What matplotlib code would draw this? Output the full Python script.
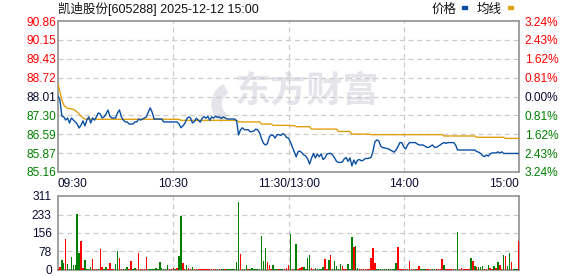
import matplotlib
matplotlib.use('Agg')
import matplotlib.pyplot as plt
import matplotlib.patches as patches

plt.rcParams['font.family'] = ['Liberation Sans', 'Noto Sans CJK SC', 'DejaVu Sans']

TITLE = '凯迪股份[605288] 2025-12-12 15:00'
PREV_CLOSE = 88.01

# one value per minute, 09:30 .. 11:30 then 13:00 .. 15:00 (241 points)
price = [
    88.03, 87.88, 87.27, 87.24, 87.12, 87.20, 87.01, 87.20, 87.12, 87.05,
    86.97, 86.82, 86.93, 87.09, 86.90, 87.12, 87.24, 87.01, 87.20, 87.12,
    87.24, 87.39, 87.35, 87.20, 87.24, 87.35, 87.50, 87.27, 87.20, 87.20,
    87.20, 87.39, 87.50, 87.24, 87.12, 87.05, 87.05, 86.97, 86.97, 86.97,
    87.05, 87.05, 87.16, 87.12, 87.16, 87.20, 87.24, 87.42, 87.58, 87.42,
    87.16, 87.16, 87.16, 87.16, 87.16, 87.05, 87.05, 87.05, 87.05, 87.05,
    87.05, 87.05, 87.05, 86.97, 86.83, 86.90, 86.99, 87.16, 87.24, 87.20,
    87.01, 87.06, 87.19, 87.12, 87.04, 87.18, 87.25, 87.19, 87.26, 87.11,
    87.24, 87.19, 87.27, 87.22, 87.24, 87.18, 87.24, 87.20, 87.16, 87.16,
    87.16, 87.16, 87.16, 87.09, 86.56, 86.75, 86.83, 86.76, 86.75, 86.76,
    86.68, 86.69, 86.71, 86.78, 86.75, 86.63, 86.41, 86.24, 86.18, 86.23,
    86.48, 86.56, 86.54, 86.44, 86.57, 86.57, 86.54, 86.61, 86.57, 86.46,
    86.44, 86.29, 86.10, 85.91, 85.73, 85.93, 85.95, 85.88, 85.80, 85.76,
    85.65, 85.46, 85.69, 85.86, 85.69, 85.84, 85.74, 85.84, 85.63, 85.69,
    85.84, 85.86, 85.86, 85.80, 85.69, 85.56, 85.52, 85.52, 85.54, 85.65,
    85.71, 85.56, 85.69, 85.39, 85.61, 85.46, 85.61, 85.63, 85.58, 85.61,
    85.67, 85.67, 85.68, 85.71, 85.95, 86.30, 86.37, 86.33, 86.14, 86.08,
    86.07, 86.05, 86.03, 85.99, 85.95, 85.91, 85.99, 86.12, 86.27, 86.27,
    86.10, 86.03, 86.18, 86.27, 86.27, 86.27, 86.27, 86.22, 86.18, 86.18,
    86.18, 86.14, 86.09, 86.09, 86.14, 86.18, 86.09, 86.09, 86.14, 86.18,
    86.24, 86.27, 86.24, 86.27, 86.27, 86.27, 86.27, 86.18, 85.99, 85.99,
    85.99, 85.99, 85.99, 85.99, 85.99, 85.99, 85.99, 85.99, 85.93, 85.91,
    85.86, 85.78, 85.74, 85.80, 85.76, 85.84, 85.88, 85.88, 85.88, 85.92,
    85.88, 85.92, 85.86, 85.86, 85.86, 85.86, 85.86, 85.86, 85.86, 85.86,
    85.86,
]

avg_price = [
    88.48, 88.18, 87.88, 87.69, 87.61, 87.56, 87.56, 87.54, 87.52, 87.48,
    87.42, 87.35, 87.27, 87.20, 87.16, 87.15, 87.15, 87.15, 87.15, 87.15,
    87.15, 87.15, 87.15, 87.15, 87.15, 87.15, 87.15, 87.15, 87.15, 87.15,
    87.15, 87.15, 87.15, 87.15, 87.15, 87.15, 87.15, 87.15, 87.15, 87.15,
    87.15, 87.15, 87.15, 87.15, 87.15, 87.15, 87.15, 87.15, 87.15, 87.15,
    87.15, 87.15, 87.15, 87.15, 87.15, 87.15, 87.15, 87.15, 87.15, 87.15,
    87.15, 87.15, 87.15, 87.15, 87.11, 87.11, 87.11, 87.11, 87.11, 87.11,
    87.11, 87.11, 87.11, 87.11, 87.11, 87.11, 87.11, 87.11, 87.11, 87.11,
    87.11, 87.11, 87.11, 87.11, 87.11, 87.11, 87.11, 87.11, 87.11, 87.11,
    87.11, 87.11, 87.11, 87.11, 87.05, 87.05, 87.05, 87.05, 87.05, 87.05,
    87.05, 87.05, 87.05, 87.05, 87.05, 87.05, 86.97, 86.97, 86.97, 86.97,
    86.97, 86.97, 86.92, 86.92, 86.92, 86.92, 86.92, 86.92, 86.92, 86.92,
    86.92, 86.91, 86.91, 86.91, 86.87, 86.87, 86.87, 86.87, 86.87, 86.87,
    86.87, 86.87, 86.78, 86.78, 86.78, 86.78, 86.78, 86.78, 86.78, 86.78,
    86.78, 86.78, 86.78, 86.78, 86.78, 86.78, 86.69, 86.69, 86.69, 86.69,
    86.69, 86.69, 86.69, 86.59, 86.59, 86.59, 86.59, 86.59, 86.59, 86.59,
    86.59, 86.59, 86.59, 86.57, 86.57, 86.57, 86.57, 86.57, 86.57, 86.57,
    86.57, 86.57, 86.57, 86.57, 86.57, 86.57, 86.57, 86.57, 86.57, 86.57,
    86.57, 86.57, 86.57, 86.57, 86.57, 86.57, 86.57, 86.57, 86.57, 86.57,
    86.57, 86.57, 86.57, 86.57, 86.57, 86.57, 86.57, 86.57, 86.57, 86.57,
    86.57, 86.52, 86.52, 86.52, 86.52, 86.52, 86.52, 86.52, 86.52, 86.52,
    86.52, 86.52, 86.52, 86.52, 86.52, 86.52, 86.52, 86.52, 86.47, 86.47,
    86.47, 86.47, 86.47, 86.47, 86.47, 86.47, 86.47, 86.47, 86.47, 86.47,
    86.47, 86.47, 86.47, 86.43, 86.43, 86.43, 86.43, 86.43, 86.43, 86.43,
    86.43,
]

# volume per minute (lots) and up/down flag
volume = [
    6, 11, 42, 31, 129, 25, 4, 53, 21, 21,
    235, 70, 122, 7, 42, 4, 6, 11, 45, 4,
    4, 4, 87, 11, 4, 11, 4, 28, 4, 4,
    25, 80, 49, 4, 6, 4, 11, 4, 38, 4,
    8, 4, 70, 4, 4, 4, 53, 4, 4, 4,
    4, 8, 4, 32, 8, 4, 4, 21, 4, 4,
    8, 6, 8, 59, 227, 28, 6, 21, 8, 4,
    11, 4, 4, 4, 4, 4, 4, 4, 4, 4,
    4, 4, 4, 4, 4, 4, 4, 4, 4, 4,
    4, 4, 4, 35, 284, 66, 6, 4, 21, 4,
    6, 8, 4, 4, 4, 4, 143, 38, 91, 35,
    21, 4, 21, 4, 4, 4, 4, 4, 4, 7,
    21, 151, 4, 4, 109, 4, 7, 11, 11, 4,
    50, 63, 8, 4, 8, 4, 4, 4, 11, 46,
    4, 42, 63, 4, 39, 17, 4, 25, 17, 4,
    4, 25, 4, 139, 97, 101, 8, 4, 4, 4,
    4, 4, 4, 50, 92, 31, 4, 4, 4, 4,
    4, 4, 4, 4, 4, 4, 29, 97, 4, 4,
    4, 4, 4, 38, 4, 4, 4, 4, 17, 4,
    4, 4, 4, 4, 4, 4, 4, 4, 4, 4,
    46, 21, 4, 6, 4, 4, 4, 4, 160, 6,
    8, 4, 4, 4, 4, 50, 38, 17, 13, 13,
    13, 17, 4, 4, 21, 8, 4, 17, 8, 34,
    21, 4, 63, 59, 17, 71, 34, 4, 4, 4,
    122,
]
vol_dir = (
    'rrggrggggg' 'ggrrggggrr' 'rgrrggrrrr' 'ggrrgggrrg' 'grrrrrrggg'
    'ggggggggrr' 'rgrggrrgrr' 'grrrrrrrrr' 'rrrgrggrgg' 'gggggrgggr'
    'gggggggggr' 'rrgggrggrr' 'rgrggrrrgg' 'ggrrgggggr' 'rgrgggggrr'
    'rgggrggrrr' 'rrrrrrgggg' 'gggggggrrr' 'rrrrrrgrrg' 'ggrrrggrrr'
    'rgrrrrrggr' 'rrrrrgrgrg' 'ggrrgrrgrg' 'rrgrggrggg' 'r'
)

price_ticks = [90.86, 90.15, 89.43, 88.72, 88.01, 87.30, 86.59, 85.87, 85.16]
pct_labels = ['3.24%', '2.43%', '1.62%', '0.81%', '0.00%',
              '0.81%', '1.62%', '2.43%', '3.24%']
vol_ticks = [0, 78, 156, 233, 311]
time_ticks = [0, 60, 120, 180, 240]
time_labels = ['09:30', '10:30', '11:30/13:00', '14:00', '15:00']

RED = '#ff0000'
GREEN = '#008000'
DARK = '#0a0a30'
FRAME = '#999999'
GRID = '#cccccc'
W, H = 578, 276


def box(left, top, right, bottom):
    return [left / W, 1 - bottom / H, (right - left) / W, (bottom - top) / H]


def dress(ax):
    for s in ax.spines.values():
        s.set_color(FRAME)
        s.set_linewidth(1.3)
    ax.tick_params(length=0)
    for t in (60, 120, 180):
        ax.axvline(t, color=GRID, lw=0.9, ls=(0, (4, 3)), zorder=1)


fig = plt.figure(figsize=(W / 100, H / 100), dpi=100)

# price panel
ax = fig.add_axes(box(58, 21, 519, 172))
dress(ax)
ax.set_xlim(0, 240)
ax.set_ylim(price_ticks[-1], price_ticks[0])
for v in price_ticks[1:-1]:
    ax.axhline(v, color=GRID, lw=0.9, ls=(0, (4, 3)), zorder=1)
# watermark: swoosh mark + name (placed in inches so it keeps its shape)
ax.add_patch(patches.Wedge((2.34, 1.72), 0.22, 120, 235, width=0.09,
                           transform=fig.dpi_scale_trans, color='#e4e4ea',
                           zorder=0))
ax.text(0.54, 0.535, '东方财富', transform=ax.transAxes, fontsize=26,
        fontweight='bold', color='#e4e4ea', ha='center', va='center',
        family=['Noto Sans CJK SC'], zorder=0)
minutes = list(range(len(price)))
ax.plot(minutes, avg_price, color='#e0a010', lw=1.0, zorder=3)
ax.plot(minutes, price, color='#0b4fa3', lw=1.0, zorder=4)

ax.set_yticks(price_ticks)
ax.set_yticklabels([f'{v:.2f}' for v in price_ticks], fontsize=8.6)
ax.tick_params(axis='y', pad=1.5)

def level_color(v):
    if abs(v - PREV_CLOSE) < 1e-6:
        return DARK
    return RED if v > PREV_CLOSE else GREEN

for lab, v in zip(ax.get_yticklabels(), price_ticks):
    lab.set_color(level_color(v))

ax.set_xticks(time_ticks)
ax.set_xticklabels(time_labels, fontsize=8.6, color=DARK)
ax.tick_params(axis='x', pad=4)
xl = ax.get_xticklabels()
xl[0].set_ha('left')
xl[-1].set_ha('right')

ax2 = ax.twinx()
ax2.set_ylim(ax.get_ylim())
ax2.set_yticks(price_ticks)
ax2.set_yticklabels(pct_labels, fontsize=8.6)
ax2.tick_params(length=0, pad=4)
for s in ax2.spines.values():
    s.set_visible(False)
for lab, v in zip(ax2.get_yticklabels(), price_ticks):
    lab.set_color(level_color(v))

# volume panel
axv = fig.add_axes(box(58, 196, 519, 270))
dress(axv)
axv.set_xlim(0, 240)
axv.set_ylim(0, vol_ticks[-1])
for v in vol_ticks[1:-1]:
    axv.axhline(v, color=GRID, lw=0.9, ls=(0, (4, 3)), zorder=1)
bar_colors = [RED if c == 'r' else GREEN for c in vol_dir]
axv.bar(minutes, volume, width=0.75, color=bar_colors, linewidth=0,
        antialiased=False, zorder=3)
axv.set_xticks([])
axv.set_yticks(vol_ticks)
axv.set_yticklabels([str(v) for v in vol_ticks], fontsize=8.6, color=DARK)
axv.tick_params(axis='y', pad=4.5)

# title and legend
fig.text(58 / W, 1 - 9 / H, TITLE, fontsize=9, color='#111111',
         ha='left', va='center')
fig.text(432 / W, 1 - 9.5 / H, '价格', fontsize=9, color='#111111',
         ha='left', va='center')
fig.text(477 / W, 1 - 9.5 / H, '均线', fontsize=9, color='#111111',
         ha='left', va='center')
fig.add_artist(patches.Rectangle((462 / W, 1 - 9 / H), 5 / W, 3 / H,
                                 transform=fig.transFigure, color='#0b4fa3'))
fig.add_artist(patches.Rectangle((508 / W, 1 - 9 / H), 5 / W, 3 / H,
                                 transform=fig.transFigure, color='#e0a010'))

fig.savefig('out.png', dpi=100)
